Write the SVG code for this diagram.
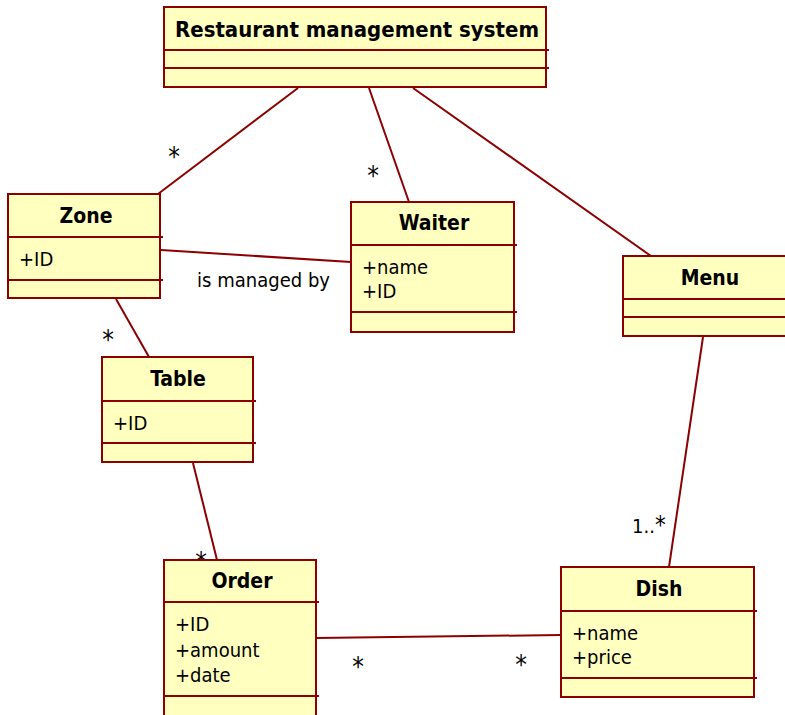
<svg xmlns="http://www.w3.org/2000/svg" width="785" height="715" viewBox="0 0 785 715">
  <style>
    .box { fill: #FFFFC0; stroke: #8B0000; stroke-width: 2; }
    .div { stroke: #8B0000; stroke-width: 2; fill: none; }
    .link { stroke: #8B0000; stroke-width: 2; fill: none; }
    .title { font-family: "DejaVu Sans Condensed", "DejaVu Sans", Verdana, sans-serif; font-weight: bold; font-size: 21px; fill: #000; text-anchor: middle; }
    .attr { font-family: "DejaVu Sans Condensed", "DejaVu Sans", Verdana, sans-serif; font-size: 20px; fill: #000; }
    .lbl { font-family: "DejaVu Sans Condensed", "DejaVu Sans", Verdana, sans-serif; font-size: 20px; fill: #000; }
    .mult { font-family: "DejaVu Sans Condensed", "DejaVu Sans", Verdana, sans-serif; font-size: 26px; fill: #000; text-anchor: middle; }
  </style>
  <rect width="785" height="715" fill="#FFFFFF"/>

  <!-- associations -->
  <g id="connectors">
    <line class="link" x1="298" y1="88" x2="158" y2="194"/>
    <line class="link" x1="369" y1="88" x2="409" y2="202"/>
    <line class="link" x1="413" y1="88" x2="651" y2="256"/>
    <line class="link" x1="161" y1="250" x2="351" y2="262"/>
    <line class="link" x1="116" y1="299" x2="149" y2="357"/>
    <line class="link" x1="193" y1="463" x2="217" y2="560"/>
    <line class="link" x1="316" y1="638" x2="561" y2="635"/>
    <line class="link" x1="703" y1="337" x2="669" y2="567"/>
    <text class="mult" x="174" y="166">*</text>
    <text class="mult" x="373" y="185">*</text>
    <text class="lbl" x="197" y="287" textLength="133">is managed by</text>
    <text class="mult" x="108" y="349">*</text>
    <text class="mult" x="201" y="571">*</text>
    <text class="mult" x="358" y="676">*</text>
    <text class="mult" x="521" y="674">*</text>
    <text class="lbl" x="632" y="533">1..<tspan font-size="24px">*</tspan></text>
  </g>

  <g id="system">
    <rect class="box" x="164" y="7" width="382" height="80"/>
    <line class="div" x1="164" y1="50" x2="549" y2="50"/>
    <line class="div" x1="164" y1="68" x2="549" y2="68"/>
    <text class="title" x="357" y="37" textLength="364" lengthAdjust="spacingAndGlyphs">Restaurant management system</text>
  </g>

  <g id="zone">
    <rect class="box" x="8" y="194" width="152" height="104"/>
    <line class="div" x1="8" y1="237" x2="163" y2="237"/>
    <line class="div" x1="8" y1="280" x2="163" y2="280"/>
    <text class="title" x="86" y="223">Zone</text>
    <text class="attr" x="19" y="266">+ID</text>
  </g>

  <g id="waiter">
    <rect class="box" x="351" y="202" width="163" height="130"/>
    <line class="div" x1="351" y1="245" x2="517" y2="245"/>
    <line class="div" x1="351" y1="312" x2="517" y2="312"/>
    <text class="title" x="434" y="230">Waiter</text>
    <text class="attr" x="362" y="274">+name</text>
    <text class="attr" x="362" y="298">+ID</text>
  </g>

  <g id="menu">
    <rect class="box" x="623" y="256" width="170" height="80"/>
    <line class="div" x1="623" y1="299" x2="785" y2="299"/>
    <line class="div" x1="623" y1="317" x2="785" y2="317"/>
    <text class="title" x="710" y="285">Menu</text>
  </g>

  <g id="table">
    <rect class="box" x="102" y="357" width="151" height="105"/>
    <line class="div" x1="102" y1="401" x2="256" y2="401"/>
    <line class="div" x1="102" y1="443" x2="256" y2="443"/>
    <text class="title" x="178" y="386">Table</text>
    <text class="attr" x="113" y="430">+ID</text>
  </g>

  <g id="order">
    <rect class="box" x="164" y="560" width="152" height="170"/>
    <line class="div" x1="164" y1="602" x2="319" y2="602"/>
    <line class="div" x1="164" y1="696" x2="319" y2="696"/>
    <text class="title" x="242" y="588">Order</text>
    <text class="attr" x="175" y="631">+ID</text>
    <text class="attr" x="175" y="657">+amount</text>
    <text class="attr" x="175" y="682">+date</text>
  </g>

  <g id="dish">
    <rect class="box" x="561" y="567" width="193" height="130"/>
    <line class="div" x1="561" y1="611" x2="757" y2="611"/>
    <line class="div" x1="561" y1="678" x2="757" y2="678"/>
    <text class="title" x="659" y="596">Dish</text>
    <text class="attr" x="572" y="640">+name</text>
    <text class="attr" x="572" y="664">+price</text>
  </g>
</svg>
